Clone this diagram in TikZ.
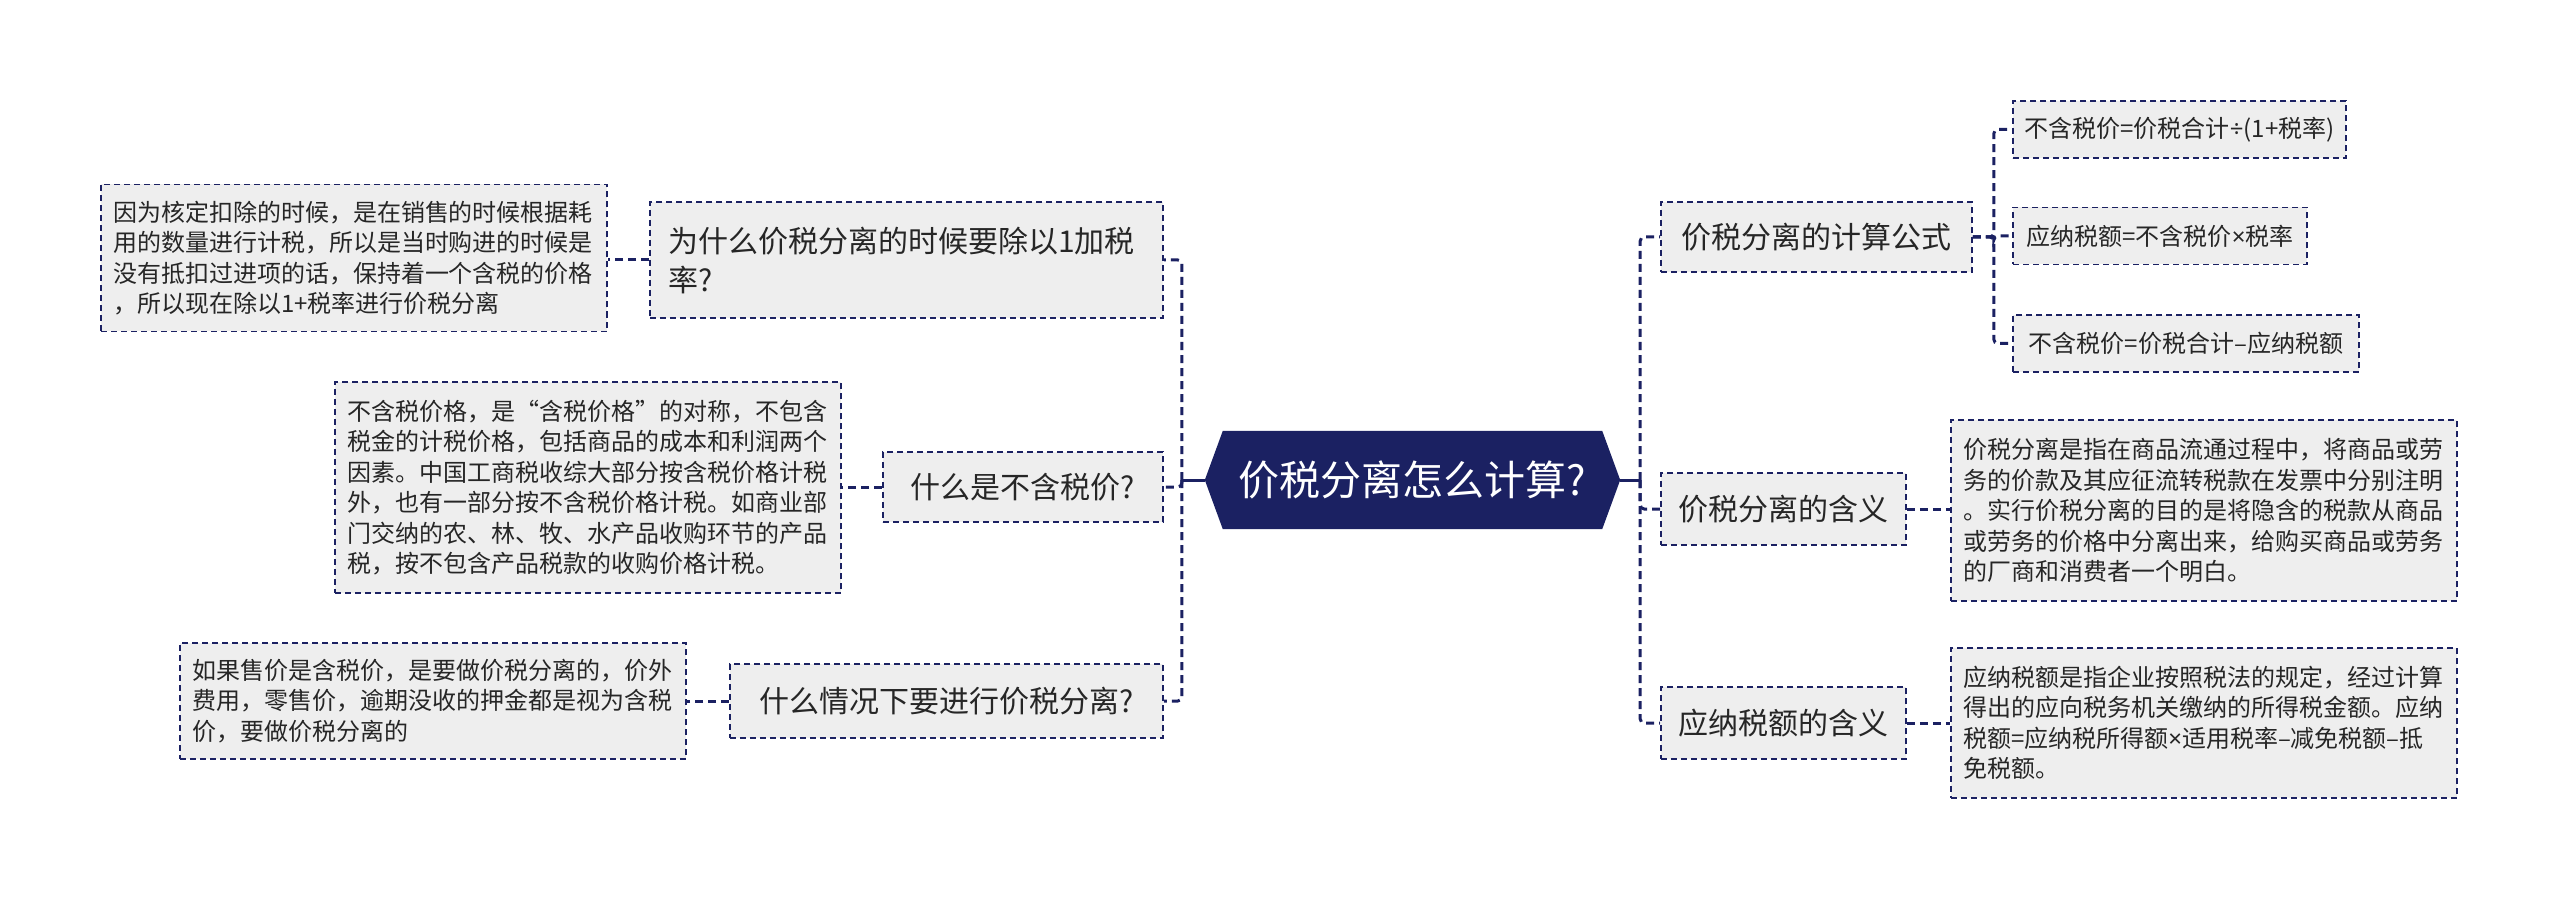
\documentclass[tikz,border=0pt]{standalone}
\usepackage{fontspec}
\setmainfont{Noto Sans CJK SC}
\newfontfamily\narrowfont{Noto Sans}
\newcommand{\tms}{{\narrowfont ×}}
\newcommand{\dvd}{{\narrowfont ÷}}
\usetikzlibrary{backgrounds}
\definecolor{navy}{HTML}{1B2162}
\definecolor{boxgray}{HTML}{EEEEEE}
\definecolor{txt}{HTML}{262626}
\tikzset{
  box/.style={draw=navy, line width=1.7pt, dash pattern=on 6pt off 4pt, fill=boxgray, text=txt, inner sep=0pt},
  lvl/.style={box, font=\fontsize{30}{39}\selectfont},
  det/.style={box, font=\fontsize{24}{30.5}\selectfont, align=left, text width=482pt, minimum width=506pt},
  sub/.style={box, font=\fontsize{24}{30.5}\selectfont, minimum height=57pt},
  link/.style={draw=navy, line width=3pt, dash pattern=on 8pt off 5pt, rounded corners=4pt},
  stub/.style={draw=navy, line width=3pt},
}
\begin{document}
\begin{tikzpicture}[x=1pt,y=-1pt]
\useasboundingbox (0,0) rectangle (2560,901);

% root
\node[font=\fontsize{41}{41}\selectfont, text=white, minimum width=415pt, minimum height=98pt, inner sep=0pt] (root) at (1412.5,480) {价税分离怎么计算?};
\begin{scope}[on background layer]
\fill[navy] (root.west) -- ([xshift=18pt]root.north west) -- ([xshift=-18pt]root.north east) -- (root.east) -- ([xshift=-18pt]root.south east) -- ([xshift=18pt]root.south west) -- cycle;
\end{scope}
\coordinate (lt) at ([xshift=-23pt]root.west);
\coordinate (rt) at ([xshift=20pt]root.east);

% left level 1
\node[lvl, align=left, text width=477pt, minimum width=513pt, minimum height=116pt] (l1) at (906.5,260) {为什么价税分离的时候要除以1加税\\率?};
\node[lvl, minimum width=280pt, minimum height=70pt] (l2) at (1023,487) {什么是不含税价?};
\node[lvl, minimum width=433pt, minimum height=74pt] (l3) at (946.5,701) {什么情况下要进行价税分离?};

% left details
\node[det, minimum height=147pt] (l1d) at (354,258) {因为核定扣除的时候，是在销售的时候根据耗\\用的数量进行计税，所以是当时购进的时候是\\没有抵扣过进项的话，保持着一个含税的价格\\，所以现在除以1+税率进行价税分离};
\node[det, minimum height=211pt] (l2d) at (588,487.5) {不含税价格，是“含税价格”的对称，不包含\\税金的计税价格，包括商品的成本和利润两个\\因素。中国工商税收综大部分按含税价格计税\\外，也有一部分按不含税价格计税。如商业部\\门交纳的农、林、牧、水产品收购环节的产品\\税，按不包含产品税款的收购价格计税。};
\node[det, minimum height=116pt] (l3d) at (433,701) {如果售价是含税价，是要做价税分离的，价外\\费用，零售价，逾期没收的押金都是视为含税\\价，要做价税分离的};

% right level 1
\node[lvl, minimum width=311pt, minimum height=70pt] (r1) at (1816.5,237) {价税分离的计算公式};
\node[lvl, minimum width=245pt, minimum height=72pt] (r2) at (1783.5,509) {价税分离的含义};
\node[lvl, minimum width=245pt, minimum height=72pt] (r3) at (1783.5,723) {应纳税额的含义};

% formulas
\node[sub, minimum width=333pt] (r1a) at (2179.5,129.5) {不含税价=价税合计\dvd(1+税率)};
\node[sub, minimum width=294pt] (r1b) at (2160,236) {应纳税额=不含税价\tms 税率};
\node[sub, minimum width=346pt] (r1c) at (2186,343.5) {不含税价=价税合计–应纳税额};

% right details
\node[det, minimum height=181pt] (r2d) at (2204,510.5) {价税分离是指在商品流通过程中，将商品或劳\\务的价款及其应征流转税款在发票中分别注明\\。实行价税分离的目的是将隐含的税款从商品\\或劳务的价格中分离出来，给购买商品或劳务\\的厂商和消费者一个明白。};
\node[det, minimum height=150pt] (r3d) at (2204,723) {应纳税额是指企业按照税法的规定，经过计算\\得出的应向税务机关缴纳的所得税金额。应纳\\税额=应纳税所得额\tms 适用税率–减免税额–抵\\免税额。};

% connectors: root to level 1
\draw[stub] (root.west) -- (lt);
\draw[stub] (root.east) -- (rt);
\draw[link] (lt) |- (l1.east);
\draw[link] (lt) |- (l2.east);
\draw[link] (lt) |- (l3.east);
\draw[link] (rt) |- (r1.west);
\draw[link] (rt) |- (r2.west);
\draw[link] (rt) |- (r3.west);

% formulas
\draw[link] (r1.east) -- ++(21pt,0pt) |- (r1a.west);
\draw[link] (r1.east) -- ++(21pt,0pt) |- (r1b.west);
\draw[link] (r1.east) -- ++(21pt,0pt) |- (r1c.west);

% details
\draw[link] (l1.west) -- (l1.west -| l1d.east);
\draw[link] (l2.west) -- (l2.west -| l2d.east);
\draw[link] (l3.west) -- (l3.west -| l3d.east);
\draw[link] (r2.east) -- (r2.east -| r2d.west);
\draw[link] (r3.east) -- (r3.east -| r3d.west);
\end{tikzpicture}
\end{document}
